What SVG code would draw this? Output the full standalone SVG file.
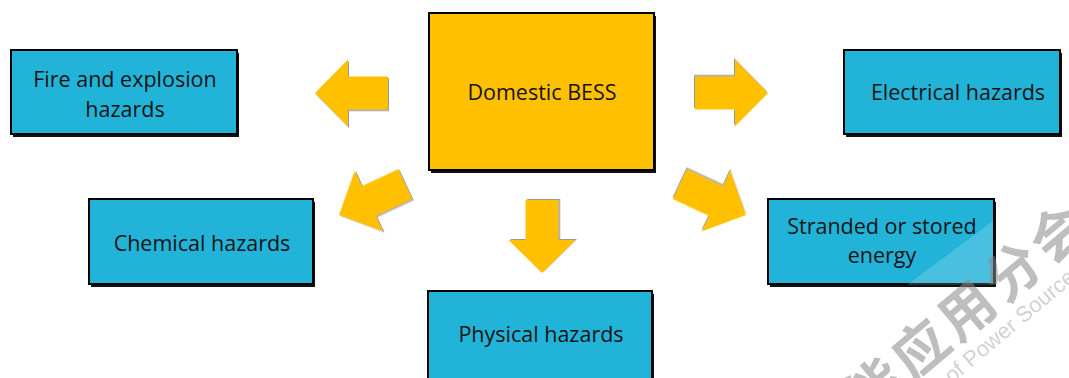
<svg xmlns="http://www.w3.org/2000/svg" width="1069" height="378" viewBox="0 0 1069 378">
  <style>
    .box { stroke: #000; stroke-width: 2; }
    .hz { fill: #21B3D8; }
    .core { fill: #FFC000; }
    .shd { fill: #111; }
    .lbl { font-family: "Open Sans", "Liberation Sans", sans-serif; font-size: 21.5px; fill: #141414; text-anchor: middle; }
    .arrow { fill: #FFC000; filter: url(#ash); }
    .wm { font-family: "Noto Sans CJK SC", "Noto Sans", sans-serif; font-weight: bold; fill: #8a8a8a; opacity: 0.55; }
    .wme { font-family: "Liberation Sans", "Noto Sans", sans-serif; fill: #999; opacity: 0.45; }
  </style>
  <defs>
    <path id="arr" d="M0,0 L33,-33.5 L33,-16.5 L73,-16.5 L73,16.5 L33,16.5 L33,33.5 Z"/>
    <filter id="ash" x="-20%" y="-20%" width="140%" height="140%">
      <feDropShadow dx="1" dy="1.5" stdDeviation="0.7" flood-color="#555" flood-opacity="0.6"/>
    </filter>
  </defs>
  <rect width="1069" height="378" fill="#fff"/>

  <g id="connectors">
    <use href="#arr" class="arrow" transform="translate(315,93)"/>
    <use href="#arr" class="arrow" transform="translate(768,93) rotate(180)"/>
    <use href="#arr" class="arrow" transform="translate(339,215) rotate(-25)"/>
    <use href="#arr" class="arrow" transform="translate(746,215) rotate(205)"/>
    <use href="#arr" class="arrow" transform="translate(542,273) rotate(-90)"/>
  </g>

  <g id="domestic-bess">
    <rect class="shd" x="431" y="16" width="225" height="157"/>
    <rect class="box core" x="429" y="13" width="225" height="157"/>
    <text class="lbl" x="542" y="100">Domestic BESS</text>
  </g>

  <g id="fire-explosion">
    <rect class="shd" x="13" y="53" width="226" height="84"/>
    <rect class="box hz" x="11" y="50" width="226" height="84"/>
    <text class="lbl" x="125" y="87">Fire and explosion</text>
    <text class="lbl" x="125" y="117">hazards</text>
  </g>

  <g id="electrical">
    <rect class="shd" x="846" y="53" width="216" height="84"/>
    <rect class="box hz" x="844" y="50" width="216" height="84"/>
    <text class="lbl" x="958" y="100">Electrical hazards</text>
  </g>

  <g id="chemical">
    <rect class="shd" x="91" y="202" width="224" height="85"/>
    <rect class="box hz" x="89" y="199" width="224" height="85"/>
    <text class="lbl" x="202" y="251">Chemical hazards</text>
  </g>

  <g id="stranded">
    <rect class="shd" x="770" y="202" width="226" height="85"/>
    <rect class="box hz" x="768" y="199" width="226" height="85"/>
    <polygon points="907,285 993,285 993,221" fill="#fff" opacity="0.18"/>
    <text class="lbl" x="882" y="234">Stranded or stored</text>
    <text class="lbl" x="882" y="263">energy</text>
  </g>

  <g id="physical">
    <rect class="shd" x="430" y="294" width="224" height="95"/>
    <rect class="box hz" x="428" y="291" width="224" height="95"/>
    <text class="lbl" x="541" y="342">Physical hazards</text>
  </g>

  <g id="watermark">
    <text class="wm" font-size="55" text-anchor="middle" dominant-baseline="central" letter-spacing="5" transform="translate(943,325) rotate(-40)">储能应用分会</text>
    <text class="wme" font-size="22" transform="translate(952,384) rotate(-40)">of Power Sources</text>
  </g>
</svg>
